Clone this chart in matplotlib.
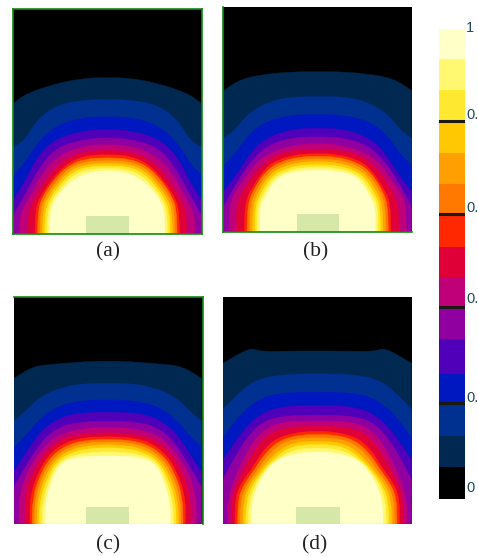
import numpy as np
import matplotlib
matplotlib.use("Agg")
import matplotlib.pyplot as plt
from matplotlib.colors import ListedColormap
from matplotlib.path import Path
from matplotlib.patches import PathPatch

W, H = 478, 557

band_colors = ['#000000', '#002850', '#003090', '#0018c0', '#5000b8', '#9000a0', '#c00078', '#e00038',
               '#ff2800', '#ff7800', '#ffa000', '#ffc800', '#ffe830', '#fff870', '#ffffc8']
band_levels = [0, .068, .134, .204, .266, .341, .409, .47, .536, .606, .67, .736, .804, .87, .936, 1]
line_levels = [.204, .409, .606, .804]
# the reference cuts these labels off at the picture edge
tick_labels = ['1', '0.', '0.', '0.', '0.', '0']
panel_names = ['(a)', '(b)', '(c)', '(d)']

# left half of each contour (outer to inner), mirrored about the centre
a_x = [[40, 80, 170, 250, 322],
       [40, 75, 110, 170, 250, 322],
       [40, 75, 110, 170, 250, 322],
       [40, 80, 115, 170, 250, 322],
       [40, 80, 120, 170, 250, 322],
       [60, 60, 95, 130, 180, 250, 322],
       [85, 85, 110, 140, 190, 250, 322],
       [105, 108, 125, 150, 195, 250, 322],
       [113, 115, 130, 155, 200, 255, 322],
       [120, 122, 137, 163, 206, 260, 322],
       [127, 129, 144, 170, 211, 263, 322],
       [134, 136, 150, 176, 216, 267, 322],
       [142, 143, 155, 183, 222, 271, 322],
       [150, 150, 160, 190, 230, 275, 322]]
a_y = [[130, 100, 70, 55, 52],
       [262, 240, 180, 135, 120, 118],
       [345, 310, 250, 195, 172, 170],
       [420, 355, 285, 235, 212, 208],
       [465, 395, 320, 262, 238, 233],
       [521, 460, 400, 335, 285, 258, 253],
       [521, 450, 405, 355, 300, 275, 270],
       [521, 440, 405, 365, 315, 288, 283],
       [521, 443, 408, 368, 319, 296, 293],
       [521, 446, 410, 372, 324, 304, 302],
       [521, 450, 412, 375, 330, 312, 310],
       [521, 454, 416, 379, 336, 319, 318],
       [521, 460, 420, 383, 343, 327, 325],
       [521, 465, 425, 385, 352, 335, 332]]

b_x = [[26, 80, 170, 250, 308],
       [26, 60, 100, 160, 230, 308],
       [26, 70, 100, 150, 230, 308],
       [26, 75, 105, 150, 230, 308],
       [26, 70, 110, 160, 230, 308],
       [42, 45, 80, 120, 170, 240, 308],
       [65, 65, 95, 130, 180, 240, 308],
       [88, 90, 110, 150, 190, 250, 308],
       [96, 98, 116, 153, 195, 250, 308],
       [104, 106, 122, 158, 200, 252, 308],
       [112, 114, 129, 163, 204, 254, 308],
       [120, 121, 136, 169, 208, 256, 308],
       [128, 128, 143, 175, 212, 258, 308],
       [135, 135, 150, 180, 215, 260, 308]]
b_y = [[92, 55, 40, 35, 35],
       [235, 210, 160, 125, 110, 110],
       [318, 270, 225, 185, 165, 163],
       [395, 330, 280, 235, 207, 205],
       [440, 360, 300, 255, 233, 230],
       [515, 420, 370, 310, 275, 255, 250],
       [515, 430, 375, 325, 285, 270, 267],
       [515, 430, 385, 325, 298, 283, 280],
       [515, 433, 387, 332, 305, 291, 288],
       [515, 436, 392, 338, 312, 299, 296],
       [515, 438, 397, 344, 320, 307, 305],
       [515, 439, 401, 350, 327, 316, 314],
       [515, 440, 405, 355, 334, 324, 322],
       [515, 440, 410, 360, 340, 332, 330]]

c_x = [[42, 100, 170, 250, 323],
       [42, 75, 120, 190, 260, 323],
       [42, 80, 120, 180, 260, 323],
       [42, 90, 130, 190, 260, 323],
       [42, 85, 135, 190, 260, 323],
       [57, 57, 85, 140, 190, 260, 323],
       [75, 75, 100, 145, 195, 260, 323],
       [90, 90, 115, 150, 200, 260, 323],
       [97, 98, 122, 156, 206, 263, 323],
       [104, 105, 129, 162, 211, 266, 323],
       [111, 112, 136, 167, 216, 270, 323],
       [118, 119, 143, 172, 220, 274, 323],
       [126, 127, 149, 176, 223, 277, 323],
       [135, 135, 155, 180, 225, 280, 323]]
c_y = [[115, 78, 72, 65, 63],
       [243, 215, 170, 140, 130, 130],
       [322, 285, 235, 195, 180, 180],
       [395, 320, 265, 228, 217, 217],
       [440, 365, 290, 255, 245, 243],
       [551, 470, 385, 310, 278, 264, 262],
       [551, 465, 390, 325, 292, 280, 278],
       [551, 470, 395, 340, 305, 292, 290],
       [551, 473, 398, 346, 312, 300, 298],
       [551, 476, 402, 352, 319, 308, 306],
       [551, 480, 407, 357, 327, 316, 314],
       [551, 484, 411, 362, 335, 325, 323],
       [551, 488, 416, 366, 344, 337, 335],
       [551, 490, 420, 370, 352, 348, 348]]

d_x = [[24, 105, 135, 220, 307],
       [24, 60, 110, 180, 307],
       [24, 75, 120, 180, 307],
       [24, 75, 120, 190, 307],
       [24, 60, 95, 135, 195, 307],
       [38, 38, 60, 100, 145, 200, 307],
       [50, 50, 75, 110, 150, 205, 307],
       [60, 62, 85, 112, 148, 200, 307],
       [68, 70, 92, 118, 153, 207, 307],
       [76, 78, 98, 125, 158, 213, 307],
       [84, 86, 104, 130, 165, 220, 307],
       [92, 94, 110, 137, 172, 228, 307],
       [100, 102, 115, 145, 180, 238, 307],
       [110, 110, 122, 150, 190, 255, 307]]
d_y = [[70, 22, 35, 33, 33],
       [208, 170, 125, 105, 100],
       [293, 225, 185, 160, 155],
       [360, 285, 232, 200, 195],
       [420, 350, 295, 250, 228, 225],
       [551, 480, 410, 325, 270, 245, 243],
       [551, 470, 410, 345, 290, 262, 258],
       [551, 465, 420, 385, 325, 285, 270],
       [551, 470, 425, 390, 335, 292, 280],
       [551, 475, 430, 395, 345, 300, 291],
       [551, 480, 435, 400, 355, 310, 302],
       [551, 485, 440, 400, 360, 318, 312],
       [551, 490, 445, 395, 360, 328, 323],
       [551, 495, 450, 395, 355, 338, 335]]

# heater block: x0, x1, top in the same crop units
block_a = [257, 386, 468]
block_b = [245, 373, 463]
block_c = [257, 386, 500]
block_d = [242, 375, 500]

panels = [
    (a_x, a_y, block_a, (39, 606, 521, -153), (0, 60), ['left', 'right', 'top', 'bottom'], (108, 252)),
    (b_x, b_y, block_b, (24, 591, 515, -159), (215, 60), ['left', 'bottom'], (316, 252)),
    (c_x, c_y, block_c, (42, 609, 551, -129), (0, 340), ['top', 'right'], (108, 545)),
    (d_x, d_y, block_d, (24, 591, 551, -129), (215, 340), [], (315, 545)),
]


def dome_path(hx, hy, bottom):
    # mirror the half contour and round it with quadratic segments
    hx = np.array(hx, dtype=float)
    hy = np.array(hy, dtype=float)
    x = np.r_[hx[0], hx, 2 * hx[-1] - hx[-2::-1], 2 * hx[-1] - hx[0]]
    y = np.r_[bottom, hy, hy[-2::-1], bottom]
    verts = [(x[0], y[0]), (x[1], y[1]), ((x[1] + x[2]) / 2, (y[1] + y[2]) / 2)]
    codes = [Path.MOVETO, Path.LINETO, Path.LINETO]
    for i in range(2, len(x) - 2):
        verts += [(x[i], y[i]), ((x[i] + x[i + 1]) / 2, (y[i] + y[i + 1]) / 2)]
        codes += [Path.CURVE3, Path.CURVE3]
    verts += [(x[-2], y[-2]), (x[-1], y[-1]), (x[0], y[0])]
    codes += [Path.LINETO, Path.LINETO, Path.CLOSEPOLY]
    return Path(verts, codes)


fig = plt.figure(figsize=(W / 100, H / 100), dpi=100, facecolor='white')

for name, (xs, ys, block, lim, off, spines, lab) in zip(panel_names, panels):
    left, right, bottom, top = lim
    x0 = off[0] + left / 3
    x1 = off[0] + right / 3
    y0 = off[1] + top / 3
    y1 = off[1] + bottom / 3
    ax = fig.add_axes([x0 / W, 1 - y1 / H, (x1 - x0) / W, (y1 - y0) / H])
    ax.set_facecolor(band_colors[0])
    for k in range(len(xs)):
        ax.add_patch(PathPatch(dome_path(xs[k], ys[k], bottom), facecolor=band_colors[k + 1],
                               edgecolor=band_colors[k + 1], lw=0.3))
    ax.fill([block[0], block[1], block[1], block[0]], [bottom, bottom, block[2], block[2]],
            color='#d5e8a8', lw=0)
    ax.set_xlim(left, right)
    ax.set_ylim(bottom, top)
    ax.set_xticks([])
    ax.set_yticks([])
    for s in ax.spines:
        if s in spines:
            ax.spines[s].set_color('#128a12')
            ax.spines[s].set_linewidth(1.2)
        else:
            ax.spines[s].set_visible(False)
    fig.text(lab[0] / W, 1 - lab[1] / H, name, family=['Liberation Serif', 'DejaVu Serif'],
             fontsize=15.5, color='#222222', ha='center', va='center')

# colour bar
cax = fig.add_axes([439 / W, 1 - 499 / H, 26 / W, 470 / H])
cax.pcolormesh([0, 1], band_levels, np.arange(15).reshape(-1, 1), cmap=ListedColormap(band_colors),
               vmin=-0.5, vmax=14.5)
for v in line_levels:
    cax.axhline(v, color='#1a1a10', lw=2.2)
cax.set_xlim(0, 1)
cax.set_ylim(0, 1)
cax.set_xticks([])
cax.set_yticks([])
for s in cax.spines.values():
    s.set_visible(False)

tick_y = [28, 115, 208, 299, 398, 488]
for t, y in zip(tick_labels, tick_y):
    fig.text(466 / W, 1 - y / H, t, family=['Liberation Sans Narrow', 'Liberation Sans'],
             fontsize=10.5, color='#1f4a5a', ha='left', va='center')

fig.savefig('out.png', dpi=100)
